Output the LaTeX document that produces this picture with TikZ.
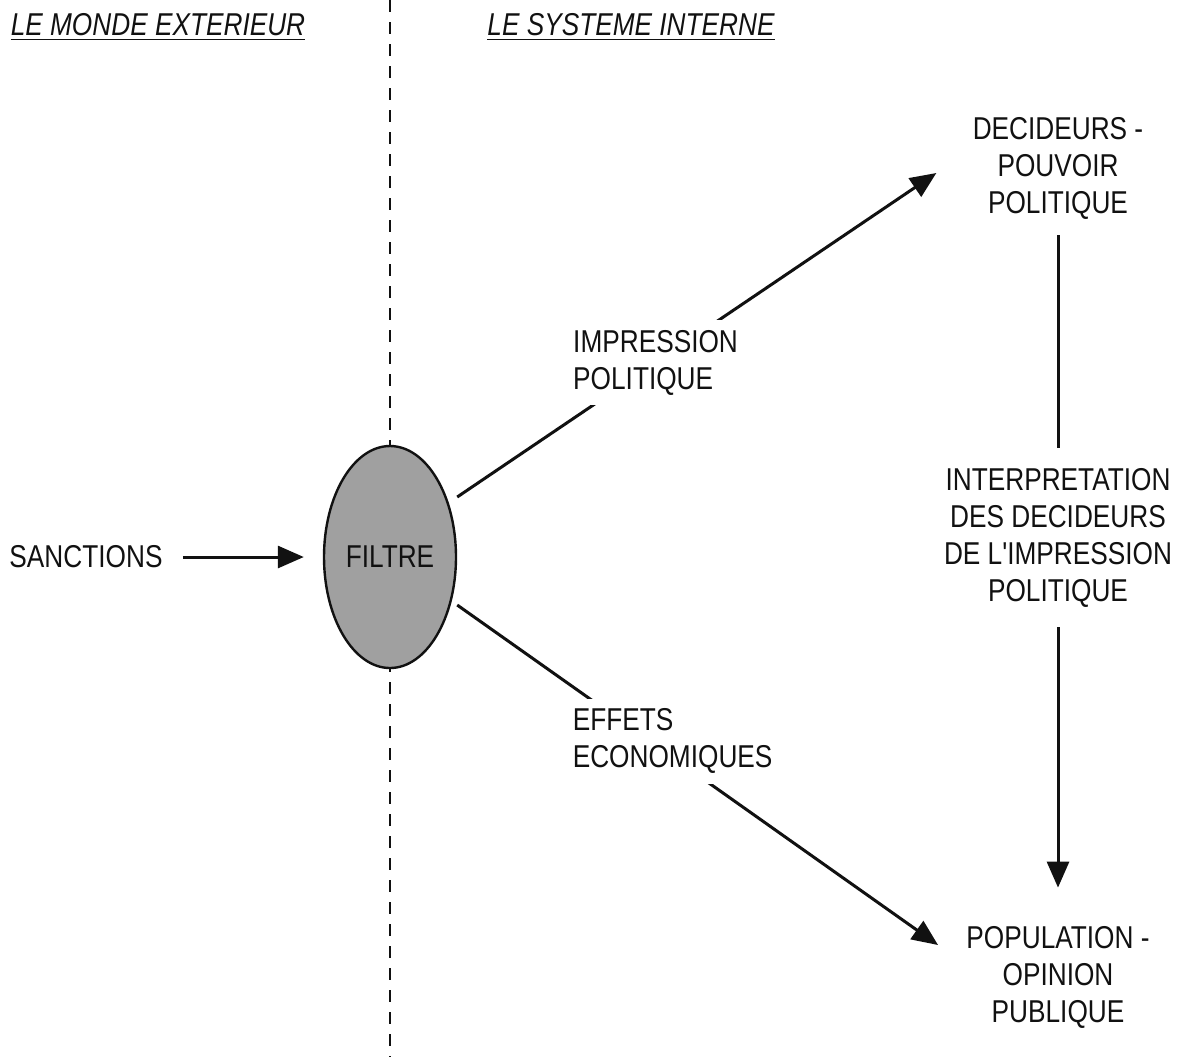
\documentclass[tikz,border=0pt]{standalone}
\usepackage{fontspec}
\setmainfont[FakeStretch=0.83,Ligatures=TeXOff]{Liberation Sans}
\usetikzlibrary{arrows.meta,positioning,shapes.geometric}
\definecolor{ink}{HTML}{111111}
\definecolor{filtergray}{HTML}{A0A0A0}
\tikzset{
  >={Triangle[length=13pt,width=11pt]},
  every node/.style={font=\fontsize{15.8}{18.5}\selectfont,text=ink},
  lbl/.style={align=center,inner sep=3pt},
  title/.style={font=\fontsize{15.8}{18.5}\selectfont\itshape,inner sep=3pt},
  midlbl/.style={fill=white,align=left,inner sep=5pt},
  filterbox/.style={ellipse,draw=ink,line width=1.2pt,fill=filtergray,minimum width=66pt,minimum height=111pt,inner sep=0pt},
  arrow/.style={->,line width=1.5pt,draw=ink},
  border/.style={draw=ink,line width=1.2pt,dash pattern=on 6pt off 5pt},
}
\newcommand{\uline}[1]{\underline{#1}}

\begin{document}
\begin{tikzpicture}[x=0.5pt,y=-0.5pt]
\useasboundingbox (0,0) rectangle (1186,1057);

% frontier between the two worlds
\coordinate (top) at (390,0);
\coordinate (bot) at (390,1057);
\draw[border] (top) -- (bot);

\node[title] (ext) at (158,27) {\uline{LE MONDE EXTERIEUR}};
\node[title] (int) at (631,27) {\uline{LE SYSTEME INTERNE}};

% filter
\node[filterbox] (filtre) at (390,557) {FILTRE};
\node[lbl] (sanctions) at (86,557) {SANCTIONS};
\draw[arrow,shorten <=7pt,shorten >=9.5pt] (sanctions) -- (filtre);

% internal system
\node[lbl] (decideurs) at (1058,168) {DECIDEURS -\\POUVOIR\\POLITIQUE};
\node[lbl] (population) at (1058,977) {POPULATION -\\OPINION\\PUBLIQUE};

\draw[arrow] ([yshift=30pt]filtre.east) -- node[pos=0.414,midlbl] (impr) {IMPRESSION\\POLITIQUE} ([xshift=-15pt,yshift=-2.5pt]decideurs.west);
\draw[arrow] ([yshift=-24pt]filtre.east) -- node[pos=0.448,yshift=8pt,midlbl] (effets) {EFFETS\\ECONOMIQUES} ([xshift=-11pt,yshift=16pt]population.west);

\draw[arrow,shorten <=5pt,shorten >=16pt] (decideurs) -- node[pos=0.45,fill=white,align=center,inner xsep=2pt,inner ysep=10pt] (interp) {INTERPRETATION\\DES DECIDEURS\\DE L'IMPRESSION\\POLITIQUE} (population);

\end{tikzpicture}
\end{document}
